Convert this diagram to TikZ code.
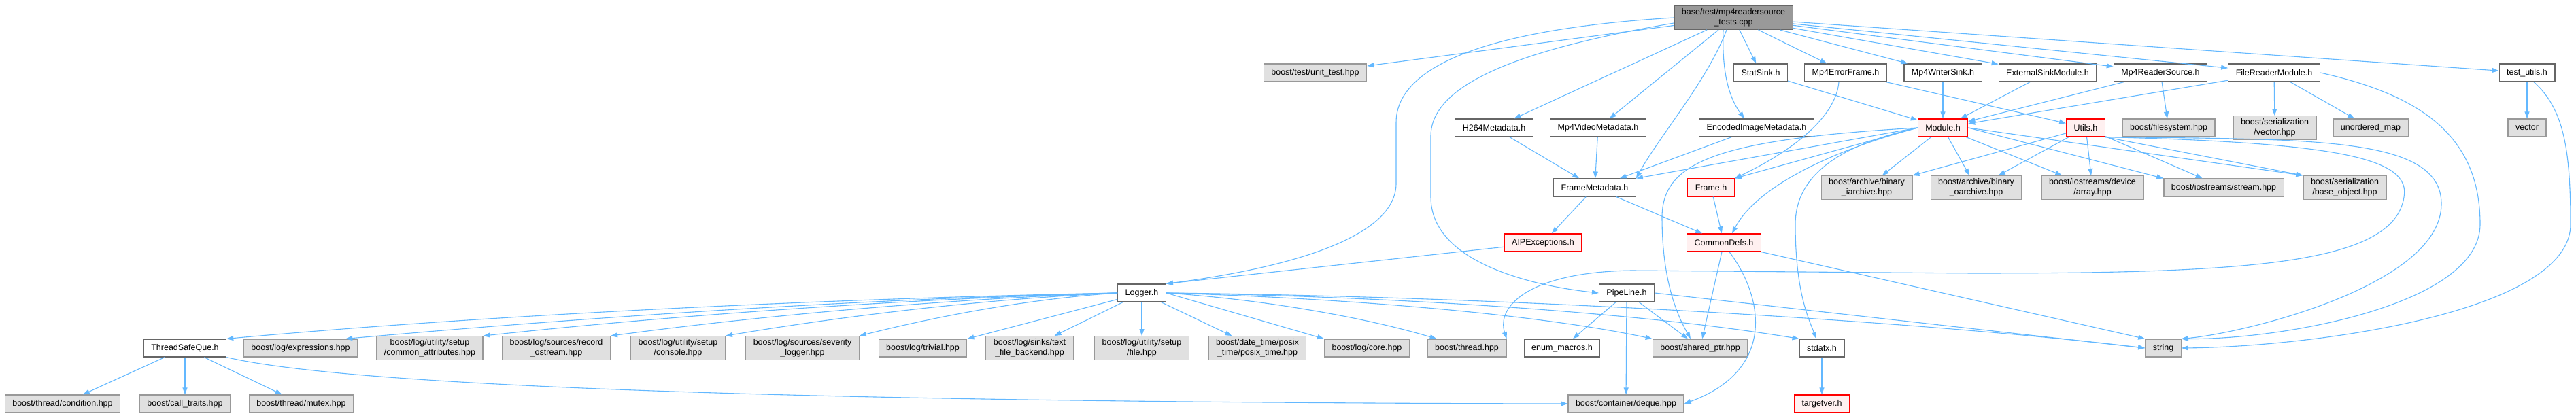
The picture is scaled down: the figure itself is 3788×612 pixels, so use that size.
\documentclass[tikz,border=0pt]{standalone}
\usepackage{fontspec}
\setmainfont{Liberation Sans}
\usepackage{xcolor}
\usepackage{tikz}
\usetikzlibrary{arrows.meta}

\definecolor{edgeblue}{HTML}{63B8FF}
\definecolor{boxgray}{HTML}{666666}
\definecolor{sysgray}{HTML}{999999}
\definecolor{sysfill}{HTML}{E0E0E0}
\definecolor{truncfill}{HTML}{FFF0F0}
\definecolor{rootfill}{HTML}{999999}

\begin{document}
\begin{tikzpicture}[x=1pt, y=1pt, >={Stealth[length=10pt, width=7pt, inset=0pt]},
    box/.style={draw, line width=1.2pt, minimum height=26pt, inner xsep=11pt, inner ysep=4pt,
                align=center, font=\fontsize{12.5}{15}\selectfont},
    hdr/.style={box, draw=boxgray, fill=white},
    sysh/.style={box, draw=sysgray, fill=sysfill},
    trunc/.style={box, draw=red, fill=truncfill},
    rootbox/.style={box, draw=boxgray, fill=rootfill},
    dep/.style={->, draw=edgeblue, line width=1.1pt}]
    \useasboundingbox (0,0) rectangle (3788,-612);

    % Test file
    \node[rootbox] (root) at (2549,-26) {base/test/mp4readersource\\\_tests.cpp};

    % Direct includes
    \node[sysh] (unittest) at (1934,-107) {boost/test/unit\_test.hpp};
    \node[hdr] (statsink) at (2589,-107) {StatSink.h};
    \node[hdr] (errframe) at (2714,-107) {Mp4ErrorFrame.h};
    \node[hdr] (writersink) at (2857,-107) {Mp4WriterSink.h};
    \node[hdr] (extsink) at (3011,-107) {ExternalSinkModule.h};
    \node[hdr] (readersrc) at (3177,-107) {Mp4ReaderSource.h};
    \node[hdr] (filereader) at (3344,-107) {FileReaderModule.h};
    \node[hdr] (testutils) at (3716,-107) {test\_utils.h};

    \node[hdr] (h264) at (2197,-188) {H264Metadata.h};
    \node[hdr] (mp4video) at (2350,-188) {Mp4VideoMetadata.h};
    \node[hdr] (encimg) at (2583,-188) {EncodedImageMetadata.h};
    \node[trunc] (module) at (2857,-188) {Module.h};
    \node[trunc] (utils) at (3067,-188) {Utils.h};
    \node[sysh] (filesystem) at (3189,-188) {boost/filesystem.hpp};
    \node[sysh] (servector) at (3345,-188) {boost/serialization\\/vector.hpp};
    \node[sysh] (umap) at (3486,-188) {unordered\_map};
    \node[sysh] (vector) at (3716,-188) {vector};

    \node[hdr] (framemeta) at (2345,-276) {FrameMetadata.h};
    \node[trunc] (frame) at (2516,-276) {Frame.h};
    \node[sysh] (iarchive) at (2745,-276) {boost/archive/binary\\\_iarchive.hpp};
    \node[sysh] (oarchive) at (2906,-276) {boost/archive/binary\\\_oarchive.hpp};
    \node[sysh] (devarray) at (3077,-276) {boost/iostreams/device\\/array.hpp};
    \node[sysh] (stream) at (3270,-276) {boost/iostreams/stream.hpp};
    \node[sysh] (baseobj) at (3448,-276) {boost/serialization\\/base\_object.hpp};

    \node[trunc] (aipexc) at (2269,-357) {AIPExceptions.h};
    \node[trunc] (commondefs) at (2535,-357) {CommonDefs.h};

    \node[hdr] (logger) at (1679,-431) {Logger.h};
    \node[hdr] (pipeline) at (2392,-431) {PipeLine.h};

    % Logger row
    \node[hdr] (tsq) at (272,-512) {ThreadSafeQue.h};
    \node[sysh] (expressions) at (442,-512) {boost/log/expressions.hpp};
    \node[sysh] (commonattr) at (632,-512) {boost/log/utility/setup\\/common\_attributes.hpp};
    \node[sysh] (recordos) at (818,-512) {boost/log/sources/record\\\_ostream.hpp};
    \node[sysh] (console) at (997,-512) {boost/log/utility/setup\\/console.hpp};
    \node[sysh] (sevlogger) at (1180,-512) {boost/log/sources/severity\\\_logger.hpp};
    \node[sysh] (trivial) at (1357,-512) {boost/log/trivial.hpp};
    \node[sysh] (textfile) at (1514,-512) {boost/log/sinks/text\\\_file\_backend.hpp};
    \node[sysh] (setupfile) at (1679,-512) {boost/log/utility/setup\\/file.hpp};
    \node[sysh] (posixtime) at (1849,-512) {boost/date\_time/posix\\\_time/posix\_time.hpp};
    \node[sysh] (logcore) at (2010,-512) {boost/log/core.hpp};
    \node[sysh] (thread) at (2157,-512) {boost/thread.hpp};
    \node[hdr] (enummacros) at (2297,-512) {enum\_macros.h};
    \node[sysh] (sharedptr) at (2500,-512) {boost/shared\_ptr.hpp};
    \node[hdr] (stdafx) at (2679,-512) {stdafx.h};
    \node[sysh] (string) at (3181,-512) {string};

    % Bottom row
    \node[sysh] (condition) at (92,-594) {boost/thread/condition.hpp};
    \node[sysh] (calltraits) at (272,-594) {boost/call\_traits.hpp};
    \node[sysh] (mutex) at (443,-594) {boost/thread/mutex.hpp};
    \node[sysh] (deque) at (2391,-594) {boost/container/deque.hpp};
    \node[trunc] (targetver) at (2679,-594) {targetver.h};

    % Edges from the test file
    \draw[dep] (root) -- (unittest);
    \draw[dep] (root.west) .. controls (2150,-45) and (2053,-110) .. (2053,-180)
        -- (2053,-270) .. controls (2053,-360) and (1850,-400) .. (logger.north east);
    \draw[dep] ([yshift=-8pt]root.west) .. controls (2250,-70) and (2104,-120) .. (2104,-200)
        -- (2104,-290) .. controls (2104,-385) and (2250,-420) .. (pipeline.west);
    \draw[dep] (root) -- (h264);
    \draw[dep] (root) -- (mp4video);
    \draw[dep] ([xshift=-10pt]root.south) .. controls (2510,-120) and (2440,-200) .. (framemeta.north east);
    \draw[dep] (root) -- (statsink);
    \draw[dep] ([xshift=-15pt]root.south) .. controls (2532,-100) and (2540,-140) .. ([xshift=-18pt]encimg.north);
    \draw[dep] (root) -- (errframe);
    \draw[dep] (root) -- (writersink);
    \draw[dep] (root) -- (extsink);
    \draw[dep] (root) -- (readersrc);
    \draw[dep] (root) -- (filereader);
    \draw[dep] (root) -- (testutils);

    % Second row
    \draw[dep] (statsink) -- (module);
    \draw[dep] (writersink) -- (module);
    \draw[dep] (extsink) -- (module);
    \draw[dep] (readersrc) -- (module);
    \draw[dep] (filereader) -- (module);
    \draw[dep] (errframe) -- (utils);
    \draw[dep] ([xshift=-10pt]errframe.south) .. controls (2700,-170) and (2640,-220) .. (frame.north east);
    \draw[dep] (readersrc) -- (filesystem);
    \draw[dep] (filereader) -- (servector);
    \draw[dep] (filereader) -- (umap);
    \draw[dep] (filereader.east) .. controls (3560,-140) and (3647,-200) .. (3647,-330)
        .. controls (3647,-450) and (3350,-500) .. (string.north east);
    \draw[dep] (testutils) -- (vector);
    \draw[dep] ([xshift=10pt]testutils.south) .. controls (3770,-160) and (3780,-220) .. (3780,-330)
        .. controls (3780,-460) and (3400,-510) .. (string.east);

    % Metadata
    \draw[dep] (h264) -- (framemeta);
    \draw[dep] (mp4video) -- (framemeta);
    \draw[dep] (encimg) -- (framemeta);
    \draw[dep] (framemeta) -- (aipexc);
    \draw[dep] (framemeta) -- (commondefs);
    \draw[dep] (frame) -- (commondefs);

    % Module.h
    \draw[dep] (module.west) -- (framemeta.north east);
    \draw[dep] (module.west) -- (frame.north east);
    \draw[dep] (module.west) .. controls (2680,-225) and (2580,-280) .. ([xshift=12pt]commondefs.north);
    \draw[dep] (module.west) .. controls (2520,-205) and (2444,-240) .. (2444,-320)
        .. controls (2444,-420) and (2470,-470) .. ([xshift=-14pt]sharedptr.north);
    \draw[dep] (module.west) .. controls (2720,-210) and (2640,-250) .. (2640,-330)
        .. controls (2640,-430) and (2660,-470) .. ([xshift=-8pt]stdafx.north);
    \draw[dep] (module) -- (iarchive);
    \draw[dep] (module) -- (oarchive);
    \draw[dep] (module) -- (devarray);
    \draw[dep] (module.east) -- (stream.north west);
    \draw[dep] (module.east) -- (baseobj.north west);

    % Utils.h
    \draw[dep] (utils) -- (iarchive.north east);
    \draw[dep] (utils) -- (oarchive);
    \draw[dep] (utils) -- (devarray);
    \draw[dep] (utils) -- (stream);
    \draw[dep] (utils.south east) -- (baseobj.north west);
    \draw[dep] (utils.south east) .. controls (3400,-205) and (3590,-200) .. (3590,-300)
        .. controls (3590,-420) and (3300,-490) .. (string.north east);
    \draw[dep] (utils.south east) .. controls (3450,-210) and (3545,-235) .. (3535,-290)
        .. controls (3520,-390) and (3300,-402) .. (2900,-402) -- (2400,-398)
        .. controls (2250,-400) and (2200,-450) .. (thread.north east);

    % CommonDefs.h and AIPExceptions.h
    \draw[dep] (aipexc) -- (logger.north east);
    \draw[dep] (commondefs) -- (sharedptr);
    \draw[dep] (commondefs.south east) -- (string.north west);
    \draw[dep] ([xshift=8pt]commondefs.south) .. controls (2595,-440) and (2610,-545) .. (deque.east);

    % PipeLine.h
    \draw[dep] (pipeline) -- (enummacros);
    \draw[dep] (pipeline) -- (sharedptr);
    \draw[dep] (pipeline) -- (deque);
    \draw[dep] (pipeline.east) -- (string.west);

    % Logger.h
    \draw[dep] (logger.west) .. controls (1185,-440) and (700,-465) .. (tsq.north east);
    \draw[dep] (logger.west) .. controls (1250,-440) and (850,-468) .. ([xshift=-18pt]expressions.north east);
    \draw[dep] (logger.west) .. controls (1320,-440) and (980,-465) .. (commonattr.north east);
    \draw[dep] (logger.west) .. controls (1385,-440) and (1115,-465) .. (recordos.north east);
    \draw[dep] (logger.west) .. controls (1445,-440) and (1240,-465) .. (console.north east);
    \draw[dep] (logger.west) .. controls (1510,-440) and (1380,-465) .. (sevlogger.north east);
    \draw[dep] (logger) -- (trivial.north east);
    \draw[dep] (logger) -- (textfile);
    \draw[dep] (logger) -- (setupfile);
    \draw[dep] (logger) -- (posixtime);
    \draw[dep] (logger.east) -- (logcore.north west);
    \draw[dep] (logger.east) .. controls (1850,-440) and (2000,-465) .. ([xshift=14pt]thread.north west);
    \draw[dep] (logger.east) .. controls (1960,-438) and (2250,-460) .. (sharedptr.north west);
    \draw[dep] (logger.east) .. controls (2040,-436) and (2400,-458) .. (stdafx.north west);
    \draw[dep] (logger.east) .. controls (2200,-436) and (2800,-470) .. (string.west);

    % ThreadSafeQue.h and stdafx.h
    \draw[dep] (tsq) -- (condition);
    \draw[dep] (tsq) -- (calltraits);
    \draw[dep] (tsq) -- (mutex);
    \draw[dep] (tsq.south east) .. controls (500,-565) and (1100,-592) .. (deque.west);
    \draw[dep] (stdafx) -- (targetver);
\end{tikzpicture}
\end{document}
